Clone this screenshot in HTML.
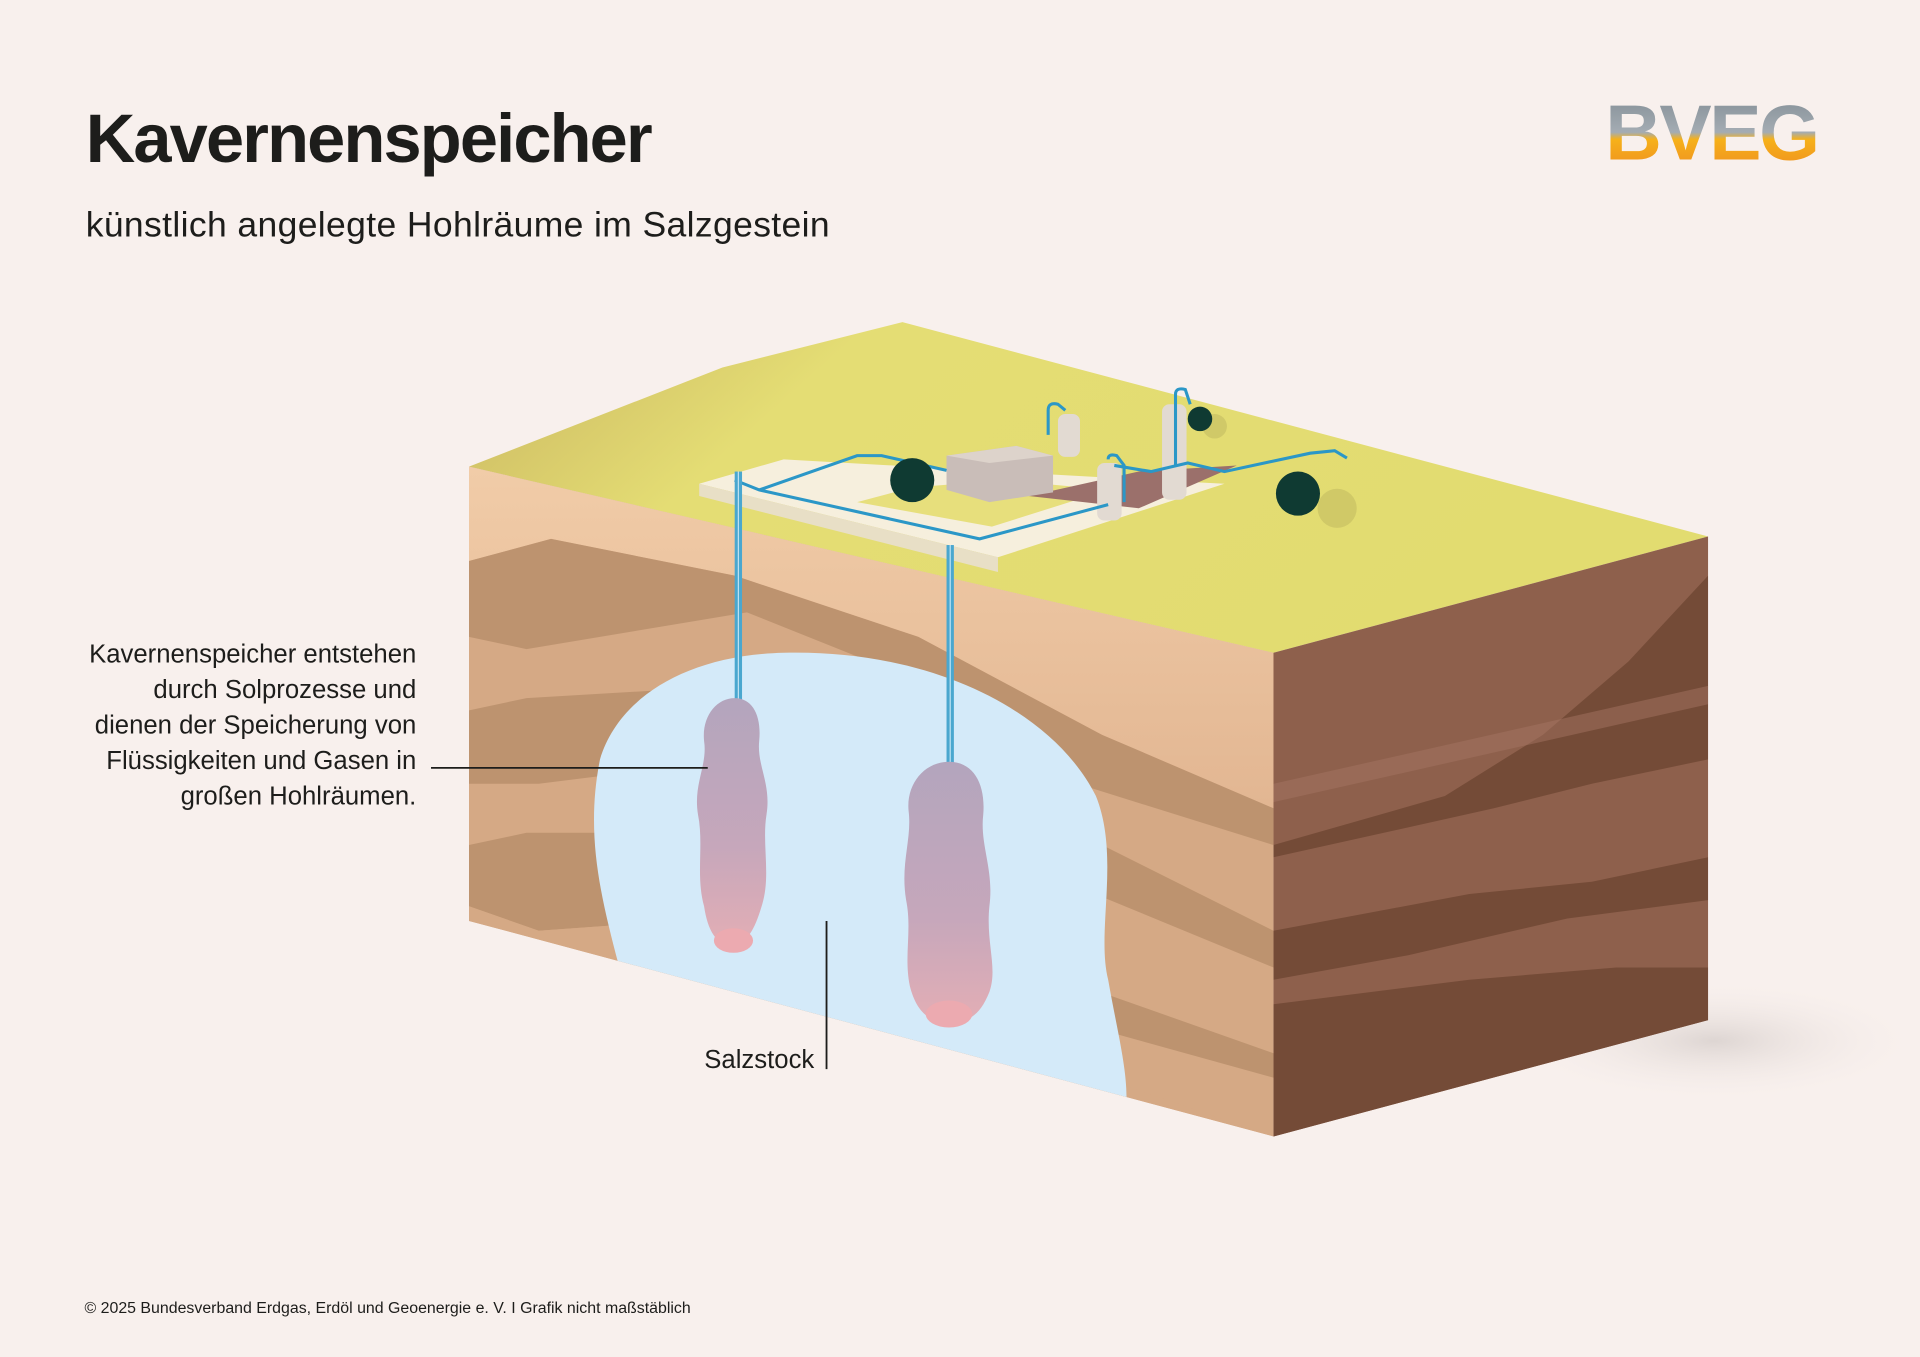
<!DOCTYPE html>
<html><head><meta charset="utf-8"><style>
html,body{margin:0;padding:0;background:#f8f0ed;}
svg{display:block;}
text{font-family:"Liberation Sans",sans-serif;}
</style></head><body>
<svg width="1920" height="1357" viewBox="0 0 1568 1108" xmlns="http://www.w3.org/2000/svg">
<defs>
<linearGradient id="logo" x1="0" y1="0" x2="0" y2="1">
<stop offset="0" stop-color="#7f8a92"/><stop offset="0.5" stop-color="#a4acb3"/><stop offset="0.58" stop-color="#f6b11a"/><stop offset="1" stop-color="#ee8a22"/>
</linearGradient>
<linearGradient id="top" x1="0" y1="0" x2="1" y2="0.3">
<stop offset="0" stop-color="#c9b560"/><stop offset="0.3" stop-color="#e4dd74"/><stop offset="1" stop-color="#e2dc70"/>
</linearGradient>
<linearGradient id="peach" x1="0" y1="0" x2="0" y2="1">
<stop offset="0" stop-color="#f1cca8"/><stop offset="1" stop-color="#e2b692"/>
</linearGradient>
<linearGradient id="cav" x1="0" y1="0" x2="0" y2="1">
<stop offset="0" stop-color="#b3a5bd"/><stop offset="0.6" stop-color="#c6a7bb"/><stop offset="1" stop-color="#e3aeb5"/>
</linearGradient>
<radialGradient id="shadow" cx="0.5" cy="0.5" r="0.5">
<stop offset="0" stop-color="#d2cac7" stop-opacity="0.7"/><stop offset="1" stop-color="#f8f0ed" stop-opacity="0"/>
</radialGradient>
<clipPath id="lf"><polygon points="383,381 1040,533 1040,928 383,752"/></clipPath>
<clipPath id="rf"><polygon points="1040,533 1395,438 1395,833 1040,928"/></clipPath>
</defs>

<text x="70" y="132" font-size="56" font-weight="bold" fill="#1d1d1b" letter-spacing="-1.5">Kavernenspeicher</text>
<text x="70" y="193" font-size="29" fill="#1d1d1b" letter-spacing="0.3">künstlich angelegte Hohlräume im Salzgestein</text>
<text x="1311" y="130" font-size="64" font-weight="bold" fill="url(#logo)" letter-spacing="-2">BVEG</text>

<!-- shadow -->
<ellipse cx="1400" cy="850" rx="170" ry="50" fill="url(#shadow)"/>

<!-- top face -->
<polygon points="383,381 590,300 737,263 1395,438 1040,533" fill="url(#top)"/>

<!-- left face -->
<g clip-path="url(#lf)">
<rect x="380" y="370" width="670" height="570" fill="#d5a985"/>
<polygon points="383,381 560,390 720,430 1040,533 1040,660 900,600 750,520 600,470 450,440 383,458" fill="url(#peach)"/>
<polygon points="383,458 450,440 600,470 750,520 900,600 1040,660 1040,690 880,640 760,560 610,500 430,530 383,520" fill="#bd936f"/>
<polygon points="383,580 430,570 600,560 760,600 880,680 1040,760 1040,790 870,720 750,650 600,620 440,640 383,640" fill="#bd936f"/>
<polygon points="383,690 430,680 600,680 740,720 870,800 1040,860 1040,880 860,830 740,780 580,750 440,760 383,740" fill="#bd936f"/>
<polygon points="383,740 440,760 580,750 740,800 900,880 1040,928 383,752" fill="#d5a985"/>
<path d="M505,787 C490,730 478,680 490,620 C505,570 560,535 640,533 C760,530 860,580 895,650 C915,700 895,760 905,800 C912,840 920,870 920,896 Z" fill="#d4eaf9"/>
</g>

<!-- right face -->
<g clip-path="url(#rf)">
<rect x="1035" y="430" width="365" height="505" fill="#8e604c"/>
<polygon points="1040,690 1180,650 1260,600 1330,540 1395,470 1395,620 1300,640 1220,660 1040,700" fill="#744b37"/>
<polygon points="1040,760 1200,730 1300,720 1395,700 1395,735 1280,750 1150,780 1040,800" fill="#744b37"/>
<polygon points="1040,820 1200,800 1320,790 1395,790 1395,840 1040,935" fill="#744b37"/>
<polygon points="1040,640 1395,560 1395,575 1040,655" fill="#a47462" opacity="0.5"/>
</g>

<!-- platform -->
<polygon points="571,395 640,375 905,390 1000,395 815,455" fill="#f6efdd"/>
<polygon points="571,395 815,455 815,467 571,405" fill="#e8dfc6"/>
<polygon points="700,410 745,398 820,392 905,400 810,430" fill="#e7df7c"/>
<polygon points="840,405 930,385 1010,380 930,415" fill="#9b706b"/>
<polygon points="773,372 830,364 860,372 860,402 808,410 773,400" fill="#c9bdb8"/>
<polygon points="773,372 830,364 860,372 808,378" fill="#ddd3cb"/>
<rect x="864" y="338" width="18" height="35" rx="6" fill="#e2dad2"/>
<rect x="896" y="378" width="20" height="47" rx="6" fill="#e2dad2"/>
<rect x="949" y="330" width="20" height="78" rx="6" fill="#e2dad2"/>
<g fill="none" stroke="#2b97c7" stroke-width="2.5">
<polyline points="600,392 620,400 800,440 905,412"/>
<polyline points="620,400 700,372 720,372 773,384"/>
<polyline points="910,380 940,385 970,378 1000,385 1070,370 1090,368 1100,374"/>
<path d="M856,355 V335 Q856,328 864,330 L870,335"/>
<path d="M960,380 V322 Q960,316 968,318 L972,330"/>
<path d="M905,375 Q905,370 912,372 L918,380 V410"/>
</g>
<circle cx="1092" cy="415" r="16" fill="#c8c064" opacity="0.7"/>
<circle cx="992" cy="348" r="10" fill="#c8c064" opacity="0.7"/>
<circle cx="745" cy="392" r="18" fill="#0f3a32"/>
<circle cx="1060" cy="403" r="18" fill="#0f3a32"/>
<circle cx="980" cy="342" r="10" fill="#0f3a32"/>

<rect x="600" y="385" width="6" height="222" fill="#4aa7cf"/>
<line x1="603" y1="385" x2="603" y2="607" stroke="#bfe2f2" stroke-width="1"/>
<rect x="773" y="445" width="6" height="180" fill="#4aa7cf"/>
<line x1="776" y1="445" x2="776" y2="625" stroke="#bfe2f2" stroke-width="1"/>

<path d="M600,570 C615,570 622,585 620,605 C618,625 630,640 626,665 C622,690 630,715 622,740 C616,760 610,770 598,772 C585,772 578,760 575,740 C568,715 575,690 570,665 C566,640 578,625 575,605 C573,585 585,570 600,570 Z" fill="url(#cav)"/>
<ellipse cx="599" cy="768" rx="16" ry="10" fill="#ecaab0"/>
<path d="M775,622 C795,622 805,640 803,665 C800,690 812,710 808,740 C805,770 815,790 808,810 C800,830 790,835 775,835 C758,835 748,825 743,805 C738,780 745,760 740,735 C735,705 745,685 742,662 C740,640 755,622 775,622 Z" fill="url(#cav)"/>
<ellipse cx="775" cy="828" rx="19" ry="11" fill="#ecaab0"/>

<g font-size="21" fill="#1d1d1b" text-anchor="end">
<text x="340" y="541">Kavernenspeicher entstehen</text>
<text x="340" y="570">durch Solprozesse und</text>
<text x="340" y="599">dienen der Speicherung von</text>
<text x="340" y="628">Flüssigkeiten und Gasen in</text>
<text x="340" y="657">großen Hohlräumen.</text>
<text x="665" y="872">Salzstock</text>
</g>
<line x1="352" y1="627" x2="578" y2="627" stroke="#1d1d1b" stroke-width="1.5"/>
<line x1="675" y1="752" x2="675" y2="873" stroke="#1d1d1b" stroke-width="1.5"/>

<text x="69" y="1072" font-size="13" fill="#1d1d1b">© 2025 Bundesverband Erdgas, Erdöl und Geoenergie e. V. I Grafik nicht maßstäblich</text>
</svg>
</body></html>
